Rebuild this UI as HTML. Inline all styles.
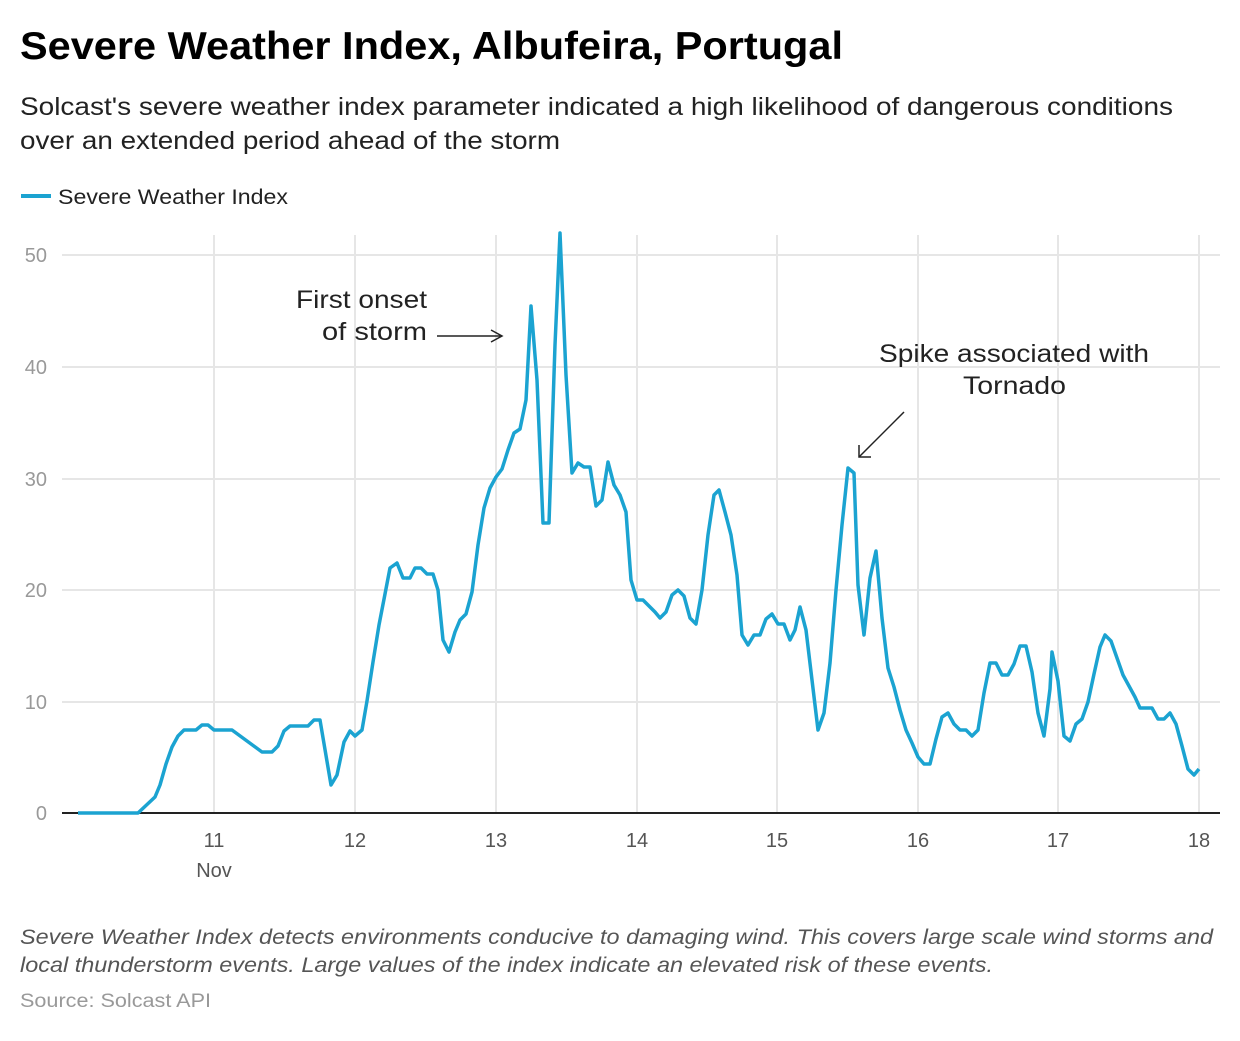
<!DOCTYPE html>
<html><head><meta charset="utf-8"><style>
body{margin:0;background:#fff;width:1240px;height:1036px;overflow:hidden;font-family:"Liberation Sans",sans-serif}
</style></head><body>
<svg width="1240" height="1036" xmlns="http://www.w3.org/2000/svg" font-family="Liberation Sans, sans-serif">
<text x="20" y="59" font-size="39" font-weight="bold" fill="#000" textLength="823" lengthAdjust="spacingAndGlyphs">Severe Weather Index, Albufeira, Portugal</text>
<text x="20" y="115" font-size="25" fill="#222" textLength="1153" lengthAdjust="spacingAndGlyphs">Solcast's severe weather index parameter indicated a high likelihood of dangerous conditions</text>
<text x="20" y="149" font-size="25" fill="#222" textLength="540" lengthAdjust="spacingAndGlyphs">over an extended period ahead of the storm</text>
<line x1="21" y1="196" x2="51" y2="196" stroke="#1ba3d1" stroke-width="4"/>
<text x="58" y="204" font-size="21" fill="#222" textLength="230" lengthAdjust="spacingAndGlyphs">Severe Weather Index</text>
<g stroke="#e6e6e6" stroke-width="2">
<line x1="62" y1="255" x2="1220" y2="255"/><line x1="62" y1="367" x2="1220" y2="367"/>
<line x1="62" y1="479" x2="1220" y2="479"/><line x1="62" y1="590" x2="1220" y2="590"/>
<line x1="62" y1="702" x2="1220" y2="702"/>
<line x1="214" y1="235" x2="214" y2="813"/><line x1="355" y1="235" x2="355" y2="813"/>
<line x1="496" y1="235" x2="496" y2="813"/><line x1="637" y1="235" x2="637" y2="813"/>
<line x1="777" y1="235" x2="777" y2="813"/><line x1="918" y1="235" x2="918" y2="813"/>
<line x1="1058" y1="235" x2="1058" y2="813"/><line x1="1199" y1="235" x2="1199" y2="813"/>
</g>
<line x1="62" y1="813" x2="1220" y2="813" stroke="#222" stroke-width="2"/>
<g font-size="20" fill="#999" text-anchor="end">
<text x="47" y="262">50</text><text x="47" y="374">40</text><text x="47" y="486">30</text>
<text x="47" y="597">20</text><text x="47" y="709">10</text><text x="47" y="820">0</text>
</g>
<g font-size="20" fill="#555" text-anchor="middle">
<text x="214" y="847">11</text><text x="214" y="877">Nov</text><text x="355" y="847">12</text>
<text x="496" y="847">13</text><text x="637" y="847">14</text><text x="777" y="847">15</text>
<text x="918" y="847">16</text><text x="1058" y="847">17</text><text x="1199" y="847">18</text>
</g>
<polyline fill="none" stroke="#1ba3d1" stroke-width="3.5" stroke-linejoin="round" points="78,813 138,813 155,797 160,785 166,764 172,747 178,736 184,730 196,730 202,725 208,725 214,730 232,730 262,752 272,752 278,746 284,731 290,726 308,726 314,720 320,720 331,785 337,775 344,742 350,731 355,736 362,730 367,701 373,662 379,625 385,594 390,568 397,563 403,578 410,578 415,568 421,568 427,574 433,574 438,590 443,640 449,652 455,632 460,620 466,614 472,592 478,545 484,508 490,488 496,477 502,469 508,450 514,433 520,429 526,400 531,306 537,380 543,523 549,523 555,345 560,233 566,375 572,473 578,463 584,467 590,467 596,506 602,500 608,462 614,485 620,495 626,512 631,580 637,600 643,600 649,606 655,612 660,618 666,612 672,595 678,590 684,596 690,618 696,624 702,590 708,535 714,495 719,490 725,512 731,535 737,575 742,635 748,645 754,635 760,635 766,619 772,614 778,624 784,624 790,640 795,630 800,607 806,630 812,680 818,730 824,713 830,663 836,590 842,525 848,468 854,473 858,585 864,635 870,578 876,551 882,618 888,668 894,687 900,710 906,730 912,743 918,757 924,764 930,764 936,739 942,717 948,713 954,724 960,730 966,730 972,736 978,730 984,693 990,663 996,663 1002,675 1008,675 1014,664 1020,646 1026,646 1032,672 1038,713 1044,736 1050,689 1052,652 1058,681 1064,736 1070,741 1076,724 1082,719 1088,702 1094,674 1100,647 1105,635 1111,641 1117,658 1123,675 1129,686 1135,697 1140,708 1146,708 1152,708 1158,719 1164,719 1170,713 1176,724 1182,746 1188,769 1194,775 1199,769"/>
<g font-size="25" fill="#222">
<text x="296" y="308" textLength="131" lengthAdjust="spacingAndGlyphs">First onset</text>
<text x="322" y="340" textLength="105" lengthAdjust="spacingAndGlyphs">of storm</text>
<text x="879" y="362" textLength="270" lengthAdjust="spacingAndGlyphs">Spike associated with</text>
<text x="963" y="394" textLength="103" lengthAdjust="spacingAndGlyphs">Tornado</text>
</g>
<g stroke="#222" stroke-width="1.5" fill="none">
<line x1="437" y1="336" x2="502" y2="336"/><polyline points="491,330 502,336 491,342"/>
<line x1="904" y1="412" x2="859" y2="457"/><polyline points="859,445 859,457 871,457"/>
</g>
<text x="20" y="944" font-size="21" font-style="italic" fill="#555" textLength="1193" lengthAdjust="spacingAndGlyphs">Severe Weather Index detects environments conducive to damaging wind. This covers large scale wind storms and</text>
<text x="20" y="972" font-size="21" font-style="italic" fill="#555" textLength="973" lengthAdjust="spacingAndGlyphs">local thunderstorm events. Large values of the index indicate an elevated risk of these events.</text>
<text x="20" y="1007" font-size="19" fill="#999" textLength="191" lengthAdjust="spacingAndGlyphs">Source: Solcast API</text>
</svg>
</body></html>
